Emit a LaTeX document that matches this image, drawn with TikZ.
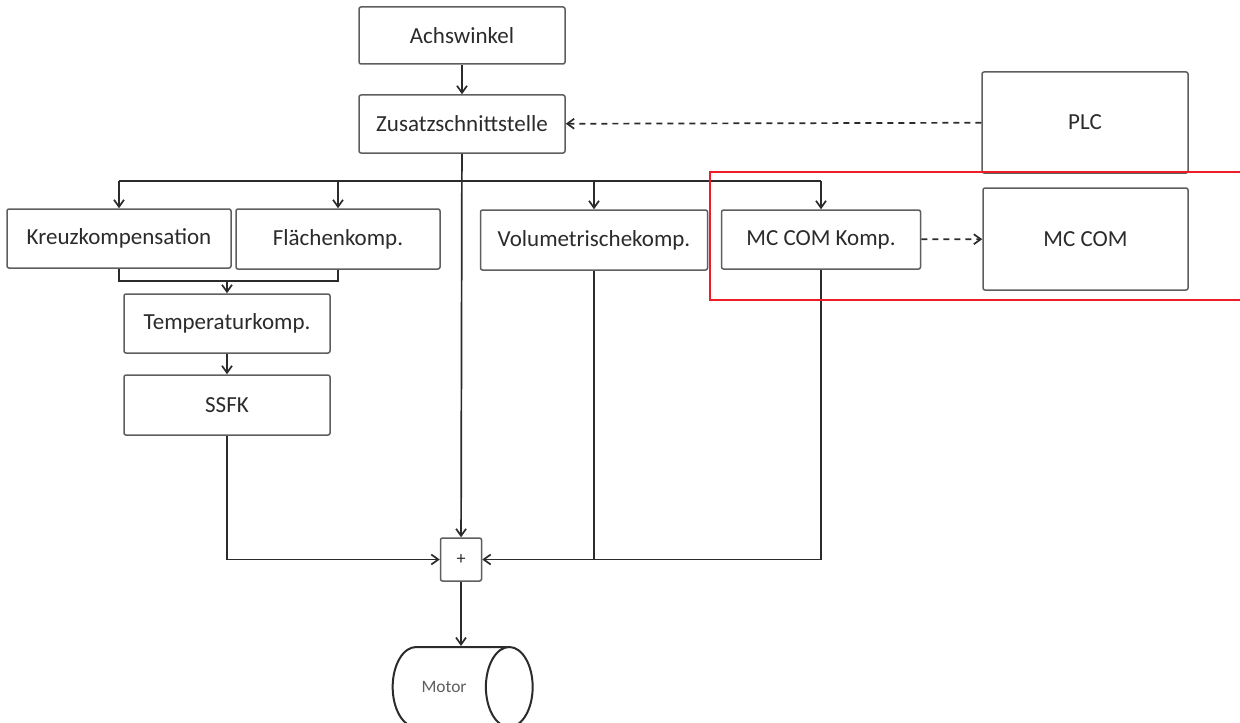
\documentclass[tikz,border=0pt]{standalone}
\usepackage{fontspec}
\setmainfont{Carlito}
\usetikzlibrary{positioning,arrows.meta,calc,shapes.geometric}
\definecolor{inkc}{HTML}{2B2B2B}
\definecolor{edgec}{HTML}{5E5E5E}
\definecolor{markc}{HTML}{EE1C25}
\tikzset{
  blk/.style ={draw=edgec,line width=.75pt,rounded corners=1pt,fill=white,
               inner sep=2pt,align=center,text=inkc,
               font=\fontsize{11.5}{13}\selectfont},
  sum/.style ={blk,font=\fontsize{9}{10}\selectfont},
  drum/.style={cylinder,draw=inkc,line width=1pt,shape aspect=1.9,
               minimum width=80*.5pt,minimum height=140*.5pt,text=edgec,
               font=\fontsize{8.7}{10}\selectfont},
  ln/.style  ={draw=inkc,line width=.85pt},
  ar/.style  ={ln,-{Straight Barb[length=3.5pt,width=5pt]}},
  arD/.style ={ar,dashed,dash pattern=on 3pt off 2.5pt},
}
\begin{document}
\begin{tikzpicture}[x=.5pt,y=-.5pt]
\useasboundingbox (0,0) rectangle (1240,722);

% ---------- source and interface -----------------------------------------
\node[blk,minimum width=206*.5pt,minimum height=57*.5pt] (ach) at (462,35.5) {Achswinkel};
\node[blk,minimum width=206*.5pt,minimum height=58*.5pt] (zus) at (462,124) {Zusatzschnittstelle};
\node[blk,minimum width=206*.5pt,minimum height=101*.5pt] (plc) at (1085,122.5) {PLC};
\draw[ar](ach)--(zus);
\draw[arD](plc)--(zus);

% ---------- compensations --------------------------------------------------
\node[blk,minimum width=224*.5pt,minimum height=59*.5pt] (kreuz) at (119,238.5) {Kreuzkompensation};
\node[blk,minimum width=204*.5pt,minimum height=60*.5pt] (flae) at (338,239) {Flächenkomp.};
\node[blk,minimum width=227*.5pt,minimum height=60*.5pt] (vol) at (594,240) {Volumetrischekomp.};
\node[blk,minimum width=199*.5pt,minimum height=59*.5pt] (mck) at (821,239.5) {MC COM Komp.};
\node[blk,minimum width=205*.5pt,minimum height=102*.5pt] (mcc) at (1085.5,239) {MC COM};
\node[blk,minimum width=206*.5pt,minimum height=59*.5pt] (temp) at (227,323.5) {Temperaturkomp.};
\node[blk,minimum width=206*.5pt,minimum height=60*.5pt] (ssfk) at (227,405) {SSFK};
\draw[arD](mck)--(mcc);

% ---------- summing point and motor ----------------------------------------
\node[sum,minimum width=41*.5pt,minimum height=43*.5pt] (plus) at (461,559.5) {+};
\node[drum] (motor) at (444,687) {Motor};

% ---------- distribution bus -----------------------------------------------
\coordinate (bus) at (462,181);
\coordinate (join) at (227,281);
\draw[ln](kreuz.north|-bus)--(mck.north|-bus);
\foreach \n in {kreuz,flae,vol,mck}
  \draw[ar](\n.north|-bus)--(\n.north);
\draw[ar](zus)--(plus);

% ---------- paths into the summing point -----------------------------------
\draw[ln](kreuz.south)|-(flae.south|-join)--(flae.south);
\draw[ar](join)--(temp);
\draw[ar](temp)--(ssfk);
\draw[ar](ssfk.south)|-(plus.west);
\draw[ar](vol.south)|-(plus.east);
\draw[ln](mck.south)|-(vol.south|-plus.east);
\draw[ar](plus)--(plus|-motor.north);

% ---------- marked region --------------------------------------------------
\draw[markc,line width=1.4pt](710,172) rectangle (1250,300);
\end{tikzpicture}
\end{document}
